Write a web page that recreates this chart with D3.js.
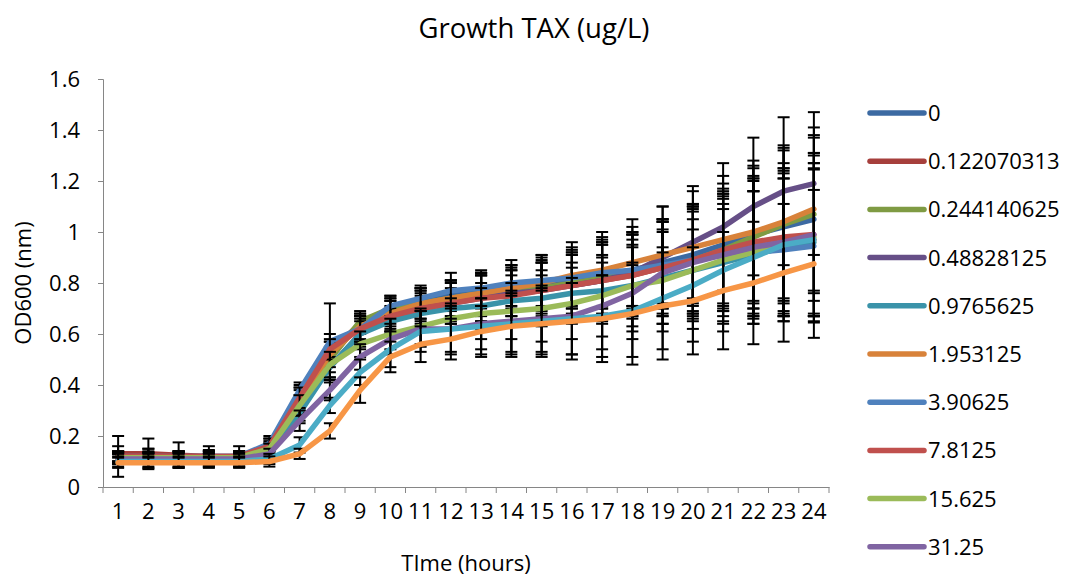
<!DOCTYPE html>
<html>
<head>
<meta charset="utf-8">
<script src="https://cdn.jsdelivr.net/npm/d3@7"></script>
<style>
  body { margin: 0; background: #fff; }
  svg text { font-family: "Open Sans", sans-serif; fill: #000; }
</style>
</head>
<body>
<div class="chart"></div>
<script>
'use strict';
(function() {
  // Categories (hours)
  var hours = [1,2,3,4,5,6,7,8,9,10,11,12,13,14,15,16,17,18,19,20,21,22,23,24];
  var yTicks = [0, 0.2, 0.4, 0.6, 0.8, 1, 1.2, 1.4, 1.6];

  // Series names (TAX concentration ug/L)
  var names = ['0', '0.122070313', '0.244140625', '0.48828125', '0.9765625', '1.953125',
    '3.90625', '7.8125', '15.625', '31.25', '62.5', '125'];

  // Mean OD600 per series
  var s0  = [0.12,0.12,0.12,0.12,0.12,0.16,0.36,0.55,0.62,0.70,0.73,0.75,0.77,0.78,0.79,0.81,0.83,0.85,0.88,0.91,0.95,0.99,1.02,1.05];
  var s1  = [0.13,0.13,0.125,0.12,0.12,0.16,0.34,0.53,0.64,0.68,0.71,0.73,0.75,0.76,0.78,0.79,0.81,0.83,0.86,0.89,0.92,0.94,0.96,0.97];
  var s2  = [0.12,0.115,0.115,0.115,0.115,0.15,0.33,0.50,0.65,0.70,0.72,0.74,0.76,0.77,0.78,0.80,0.82,0.84,0.86,0.89,0.93,0.98,1.03,1.07];
  var s3  = [0.115,0.11,0.11,0.11,0.11,0.14,0.30,0.47,0.60,0.66,0.70,0.72,0.74,0.76,0.77,0.79,0.81,0.84,0.90,0.96,1.02,1.10,1.16,1.19];
  var s4  = [0.11,0.11,0.11,0.11,0.11,0.14,0.29,0.47,0.60,0.65,0.68,0.70,0.71,0.73,0.74,0.76,0.77,0.79,0.82,0.85,0.88,0.91,0.94,0.96];
  var s5  = [0.11,0.11,0.11,0.11,0.11,0.15,0.33,0.52,0.63,0.68,0.72,0.74,0.76,0.78,0.80,0.83,0.85,0.88,0.91,0.94,0.97,1.00,1.04,1.09];
  var s6  = [0.12,0.12,0.12,0.12,0.12,0.17,0.38,0.57,0.62,0.71,0.74,0.77,0.78,0.80,0.81,0.82,0.84,0.85,0.87,0.89,0.91,0.92,0.93,0.945];
  var s7  = [0.12,0.12,0.12,0.12,0.12,0.16,0.35,0.54,0.62,0.67,0.70,0.72,0.74,0.75,0.77,0.79,0.81,0.83,0.86,0.89,0.93,0.96,0.98,0.99];
  var s8  = [0.115,0.115,0.115,0.115,0.115,0.15,0.32,0.48,0.56,0.60,0.63,0.66,0.68,0.69,0.70,0.72,0.75,0.79,0.81,0.85,0.89,0.92,0.95,0.98];
  var s9  = [0.11,0.11,0.11,0.11,0.11,0.13,0.26,0.38,0.51,0.58,0.62,0.62,0.64,0.65,0.66,0.67,0.71,0.76,0.84,0.88,0.91,0.94,0.96,0.99];
  var s10 = [0.10,0.10,0.10,0.10,0.10,0.11,0.165,0.32,0.45,0.54,0.61,0.62,0.63,0.64,0.65,0.66,0.67,0.69,0.74,0.79,0.85,0.90,0.95,0.97];
  var s11 = [0.095,0.095,0.095,0.095,0.095,0.10,0.13,0.22,0.38,0.51,0.56,0.58,0.61,0.63,0.64,0.65,0.66,0.68,0.71,0.73,0.77,0.80,0.84,0.875];

  // Error (+/-) per series
  var e0  = [0.08,0.03,0.02,0.02,0.02,0.02,0.04,0.05,0.05,0.04,0.05,0.06,0.07,0.08,0.09,0.10,0.12,0.14,0.17,0.20,0.24,0.26,0.30,0.32];
  var e1  = [0.03,0.06,0.05,0.04,0.04,0.03,0.05,0.04,0.04,0.05,0.06,0.08,0.08,0.09,0.10,0.12,0.14,0.16,0.18,0.21,0.23,0.27,0.28,0.30];
  var e2  = [0.02,0.02,0.02,0.03,0.02,0.02,0.03,0.05,0.04,0.05,0.06,0.07,0.08,0.10,0.11,0.12,0.14,0.16,0.19,0.22,0.24,0.28,0.30,0.31];
  var e3  = [0.02,0.02,0.03,0.02,0.02,0.02,0.04,0.04,0.06,0.05,0.06,0.08,0.09,0.11,0.13,0.14,0.16,0.18,0.20,0.22,0.25,0.27,0.29,0.28];
  var e4  = [0.02,0.02,0.02,0.02,0.03,0.03,0.04,0.06,0.05,0.05,0.07,0.08,0.09,0.10,0.11,0.12,0.13,0.16,0.18,0.20,0.23,0.25,0.27,0.29];
  var e5  = [0.02,0.02,0.02,0.02,0.02,0.02,0.05,0.05,0.05,0.06,0.06,0.07,0.08,0.09,0.11,0.13,0.15,0.17,0.19,0.22,0.25,0.28,0.30,0.32];
  var e6  = [0.02,0.03,0.02,0.02,0.02,0.03,0.03,0.15,0.05,0.04,0.05,0.07,0.07,0.09,0.10,0.12,0.14,0.15,0.17,0.20,0.22,0.24,0.28,0.30];
  var e7  = [0.02,0.02,0.02,0.02,0.02,0.03,0.04,0.04,0.05,0.06,0.07,0.08,0.09,0.10,0.11,0.13,0.15,0.16,0.19,0.21,0.23,0.26,0.29,0.31];
  var e8  = [0.02,0.02,0.02,0.02,0.02,0.02,0.04,0.05,0.05,0.06,0.07,0.08,0.10,0.11,0.13,0.14,0.16,0.18,0.20,0.23,0.25,0.28,0.30,0.33];
  var e9  = [0.02,0.02,0.02,0.02,0.02,0.02,0.04,0.04,0.05,0.06,0.07,0.09,0.10,0.12,0.13,0.15,0.17,0.18,0.20,0.22,0.24,0.27,0.29,0.32];
  var e10 = [0.02,0.02,0.02,0.02,0.02,0.02,0.03,0.03,0.05,0.07,0.08,0.10,0.11,0.12,0.13,0.14,0.16,0.18,0.20,0.22,0.24,0.26,0.28,0.30];
  var e11 = [0.02,0.02,0.02,0.02,0.02,0.02,0.02,0.03,0.05,0.06,0.07,0.08,0.10,0.12,0.13,0.15,0.17,0.20,0.21,0.21,0.23,0.24,0.27,0.29];

  var values = [s0, s1, s2, s3, s4, s5, s6, s7, s8, s9, s10, s11];
  var errors = [e0, e1, e2, e3, e4, e5, e6, e7, e8, e9, e10, e11];

  // Colors
  var COLORS = ['#3C6AA2', '#A63F3C', '#7F9B43', '#664F87', '#3A93A9', '#D8823A',
    '#4F81BD', '#C0504D', '#9BBB59', '#8064A2', '#4BACC6', '#F79646'];

  // Legend only shows the first ten entries
  var legendCount = 10;

  // Width and height
  var w = 1075;
  var h = 577;
  var left = 103, right = 829, top = 79, bottom = 487;

  var series = names.map(function(name, i) {
    return {
      name: name,
      color: COLORS[i],
      points: hours.map(function(hr, j) {
        return {hour: hr, value: values[i][j], err: errors[i][j]};
      })
    };
  });

  var svg = d3.select(".chart")
    .append("svg")
    .attr("width", w)
    .attr("height", h);

  // Scales
  var xScale = d3.scaleBand()
    .domain(hours)
    .range([left, right]);

  var yScale = d3.scaleLinear()
    .domain([0, 1.6])
    .range([bottom, top]);

  var xMid = function(hr) {
    return xScale(hr) + xScale.bandwidth() / 2;
  };

  // Y axis
  var yAxis = d3.axisLeft(yScale)
    .tickValues(yTicks)
    .tickFormat(d3.format("~g"))
    .tickSize(5)
    .tickPadding(18);

  var gy = svg.append("g")
    .attr("transform", "translate(" + left + ",0)")
    .call(yAxis);
  gy.selectAll("path, line").attr("stroke", "#868686");
  gy.selectAll("text").attr("font-size", "22px").attr("font-family", "Open Sans");

  // X axis, ticks between categories
  var xAxis = d3.axisBottom(xScale)
    .tickSize(0)
    .tickPadding(16);

  var gx = svg.append("g")
    .attr("transform", "translate(0," + bottom + ")")
    .call(xAxis);
  gx.select(".domain").attr("stroke", "#868686");
  gx.selectAll("text").attr("font-size", "22px").attr("font-family", "Open Sans");

  gx.selectAll(".sep")
    .data(d3.range(hours.length + 1))
    .enter()
    .append("line")
    .attr("class", "sep")
    .attr("x1", function(d) { return left + d * xScale.step(); })
    .attr("x2", function(d) { return left + d * xScale.step(); })
    .attr("y1", 0)
    .attr("y2", 6)
    .attr("stroke", "#868686");

  // Lines and error bars per series
  var line = d3.line()
    .x(function(d) { return xMid(d.hour); })
    .y(function(d) { return yScale(d.value); });

  var groups = svg.append("g")
    .attr("class", "data")
    .selectAll("g")
    .data(series)
    .enter()
    .append("g");

  groups.each(function(s) {
    var g = d3.select(this);
    var bars = g.selectAll(".err")
      .data(s.points)
      .enter()
      .append("g")
      .attr("class", "err")
      .attr("stroke", "#000")
      .attr("stroke-width", 2);

    bars.append("line")
      .attr("x1", function(d) { return xMid(d.hour); })
      .attr("x2", function(d) { return xMid(d.hour); })
      .attr("y1", function(d) { return yScale(d.value + d.err); })
      .attr("y2", function(d) { return yScale(d.value - d.err); });

    [1, -1].forEach(function(sign) {
      bars.append("line")
        .attr("x1", function(d) { return xMid(d.hour) - 6; })
        .attr("x2", function(d) { return xMid(d.hour) + 6; })
        .attr("y1", function(d) { return yScale(d.value + sign * d.err); })
        .attr("y2", function(d) { return yScale(d.value + sign * d.err); });
    });

    g.append("path")
      .datum(s.points)
      .attr("d", line)
      .attr("fill", "none")
      .attr("stroke", s.color)
      .attr("stroke-width", 5.5)
      .attr("stroke-linejoin", "round")
      .attr("stroke-linecap", "round");
  });

  // Legend
  var legend = svg.append("g")
    .selectAll("g")
    .data(series.slice(0, legendCount))
    .enter()
    .append("g")
    .attr("transform", function(d, i) {
      return "translate(870," + (113 + i * 48.2) + ")";
    });

  legend.append("line")
    .attr("x1", 0)
    .attr("x2", 54)
    .attr("stroke", function(d) { return d.color; })
    .attr("stroke-width", 5.5)
    .attr("stroke-linecap", "round");

  legend.append("text")
    .attr("x", 58)
    .attr("dy", "0.36em")
    .attr("font-size", "22px")
    .text(function(d) { return d.name; });

  // Titles
  svg.append("text")
    .attr("x", 534)
    .attr("y", 38)
    .attr("text-anchor", "middle")
    .attr("font-size", "27.5px")
    .text("Growth TAX (ug/L)");

  svg.append("text")
    .attr("x", 466)
    .attr("y", 571)
    .attr("text-anchor", "middle")
    .attr("font-size", "22px")
    .text("TIme (hours)");

  svg.append("text")
    .attr("transform", "translate(31,283) rotate(-90)")
    .attr("text-anchor", "middle")
    .attr("font-size", "22px")
    .text("OD600 (nm)");
})();
</script>
</body>
</html>
